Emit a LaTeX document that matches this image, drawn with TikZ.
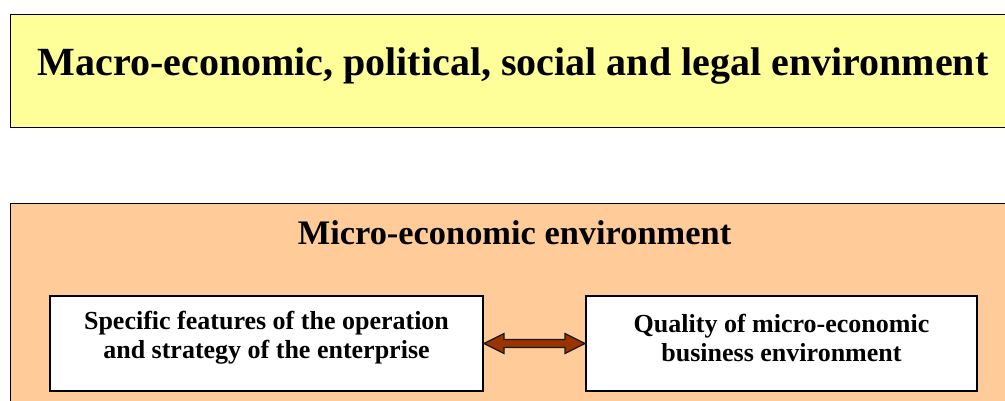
\documentclass[tikz,border=0pt]{standalone}
\usepackage{fontspec}
\setmainfont{Liberation Serif}
\usetikzlibrary{calc}
\definecolor{macrofill}{HTML}{FFFF99}
\definecolor{microfill}{HTML}{FFCC99}
\definecolor{arrowfill}{HTML}{993300}
\tikzset{
  x=1pt, y=1pt,
  outerbox/.style={draw=black, line width=1.4pt, anchor=north west, inner sep=0pt},
  innerbox/.style={draw=black, line width=2pt, fill=white, inner sep=0pt,
    minimum width=433pt, minimum height=95pt},
  innertext/.style={font=\bfseries\fontsize{26}{29}\selectfont, align=center},
  linkarrow/.style={fill=arrowfill, draw=black!90, line width=1.2pt, line join=miter},
}
\begin{document}
\begin{tikzpicture}
\useasboundingbox (0,0) rectangle (1005,-400);
\begin{scope}
\clip (0,0) rectangle (1005,-400);
% outer environment layers
\node[outerbox, fill=macrofill, minimum width=1008pt, minimum height=113pt] (macro) at (10,-14) {};
\node[outerbox, fill=microfill, minimum width=1008pt, minimum height=220pt] (micro) at (10,-203) {};
\end{scope}
\node[font=\bfseries\fontsize{40}{44}\selectfont, anchor=base] (macrotitle) at (513,-75) {Macro-economic, political, social and legal environment};
\node[font=\bfseries\fontsize{34.4}{40}\selectfont, anchor=base] (microtitle) at (514.5,-244) {Micro-economic environment};
% the two interacting factors
\node[innerbox] (ent) at (266.5,-343.5) {};
\node[innertext] (enttext) at (266.5,-338) {Specific features of the operation\\and strategy of the enterprise};
\node[innerbox, minimum width=391pt] (bus) at (781.5,-343.5) {};
\node[innertext] (bustext) at (781.5,-338) {Quality of micro-economic\\business environment};
% two-way link
\draw[linkarrow] (ent.east) -- ++(20,10) -- ++(0,-6) -- ($(bus.west)+(-20,4)$) -- ++(0,6)
  -- (bus.west) -- ++(-20,-10) -- ++(0,6) -- ($(ent.east)+(20,-4)$) -- ++(0,-6) -- cycle;
\end{tikzpicture}
\end{document}
